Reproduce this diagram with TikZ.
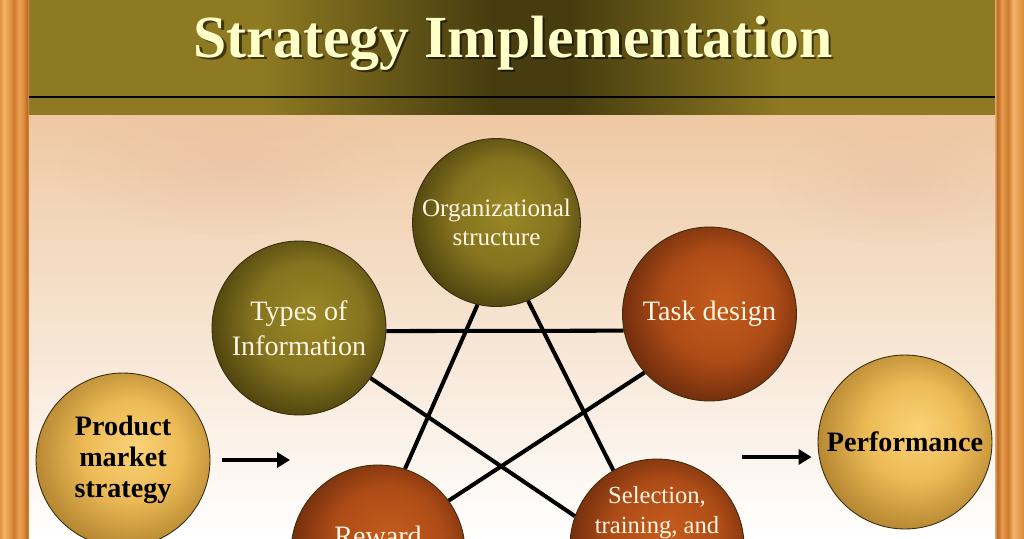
\documentclass[tikz,border=0pt]{standalone}
\usepackage{fontspec}
\setmainfont{Liberation Serif}
\usetikzlibrary{arrows.meta,fadings}

\definecolor{bandlight}{HTML}{8E7A22}
\definecolor{banddark}{HTML}{463C0F}
\definecolor{titlecream}{HTML}{FFFFC8}
\definecolor{bubblewhite}{HTML}{FFF6E4}
\definecolor{bubblerim}{HTML}{3A2E0C}
\definecolor{olivehi}{HTML}{9A8826}
\definecolor{olivemid}{HTML}{85731F}
\definecolor{olivelo}{HTML}{4E430E}
\definecolor{rusthi}{HTML}{C45C1C}
\definecolor{rustmid}{HTML}{AE4C17}
\definecolor{rustlo}{HTML}{6E2C0C}
\definecolor{goldhi}{HTML}{FAD276}
\definecolor{goldmid}{HTML}{EDBB56}
\definecolor{goldlo}{HTML}{B38530}
\definecolor{bgtop}{HTML}{EEC8A2}
\definecolor{bgmid}{HTML}{F7E6D6}
\definecolor{bgpink}{HTML}{E6B6A0}
\definecolor{woodA}{HTML}{E0923F}
\definecolor{woodB}{HTML}{F2B468}
\definecolor{woodC}{HTML}{E69C4C}
\definecolor{woodD}{HTML}{CF7A30}
\definecolor{woodE}{HTML}{EAA254}
\definecolor{woodF}{HTML}{DA8A3C}
\definecolor{woodG}{HTML}{BE6826}
\definecolor{woodH}{HTML}{E9A866}

\pgfdeclarehorizontalshading{bandshade}{100bp}{color(0bp)=(bandlight); color(37bp)=(bandlight); color(49bp)=(banddark); color(53bp)=(banddark); color(64bp)=(bandlight); color(100bp)=(bandlight)}
\pgfdeclarehorizontalshading{woodleft}{100bp}{color(0bp)=(woodA); color(25bp)=(woodA); color(32bp)=(woodB); color(40bp)=(woodC); color(49bp)=(woodD); color(58bp)=(woodE); color(66bp)=(woodF); color(72bp)=(woodG); color(75bp)=(woodH); color(100bp)=(woodH)}
\pgfdeclarehorizontalshading{woodright}{100bp}{color(0bp)=(woodH); color(25bp)=(woodH); color(29bp)=(woodG); color(37bp)=(woodC); color(48bp)=(woodD); color(56bp)=(woodB); color(65bp)=(woodE); color(75bp)=(woodF); color(100bp)=(woodF)}
\pgfdeclareradialshading{oliveball}{\pgfpoint{4bp}{4bp}}{color(0bp)=(olivehi); color(16bp)=(olivemid); color(28bp)=(olivelo); color(50bp)=(olivelo)}
\pgfdeclareradialshading{rustball}{\pgfpoint{4bp}{4bp}}{color(0bp)=(rusthi); color(16bp)=(rustmid); color(28bp)=(rustlo); color(50bp)=(rustlo)}
\pgfdeclareradialshading{goldball}{\pgfpoint{4bp}{4bp}}{color(0bp)=(goldhi); color(14bp)=(goldmid); color(28bp)=(goldlo); color(50bp)=(goldlo)}
\tikzfading[name=softspot, inner color=transparent!0, outer color=transparent!100]

\begin{document}
\begin{tikzpicture}[x=0.02cm, y=-0.02cm,
  bubble/.style={circle, draw=bubblerim, line width=0.5pt, shade, minimum size=3.48cm, inner sep=0pt, align=center},
  olivebubble/.style={bubble, shading=oliveball, text=bubblewhite},
  rustbubble/.style={bubble, shading=rustball, text=bubblewhite},
  goldbubble/.style={bubble, shading=goldball, text=black, font=\bfseries\fontsize{16}{17.6}\selectfont},
  bubbletext/.style={text=bubblewhite, align=center, inner sep=0pt},
  titletext/.style={anchor=base, font=\bfseries\fontsize{34}{40}\selectfont},
  link/.style={line width=2.3pt},
  flow/.style={line width=2.5pt, -{Triangle[length=0.26cm,width=0.3cm]}}]
\useasboundingbox (0,0) rectangle (1024,538);

% backdrop
\shade[top color=bgtop, middle color=bgmid, bottom color=white] (29,114) rectangle (995,538);
\fill[bgpink, opacity=0.35, path fading=softspot] (230,165) ellipse [x radius=3.4cm, y radius=1.4cm];
\fill[bgpink, opacity=0.3, path fading=softspot] (900,180) ellipse [x radius=2.6cm, y radius=1.3cm];
\shade[shading=bandshade] (29,0) rectangle (995,95.5);
\fill[black] (29,95.5) rectangle (995,98.5);
\shade[shading=bandshade] (29,98.5) rectangle (995,114);
\shade[shading=woodleft] (0,0) rectangle (29,538);
\shade[shading=woodright] (995,0) rectangle (1024,538);

\node[titletext, text=black, opacity=0.55] (titleShade) at (515.5,59.5) {Strategy Implementation};
\node[titletext, text=titlecream] (title) at (513,57) {Strategy Implementation};

\node[olivebubble, minimum size=3.36cm, font=\fontsize{14.3}{16.5}\selectfont] (org) at (496.5,222.5) {Organizational\\structure};
\node[olivebubble, font=\fontsize{16}{20}\selectfont] (types) at (299,328) {Types of\\Information};
\node[rustbubble, font=\fontsize{16}{20}\selectfont] (task) at (709.5,314) {Task design};
\node[rustbubble] (reward) at (378,552) {};
\node[rustbubble] (select) at (657,546) {};
\node[goldbubble] (product) at (123,460) {Product\\market\\strategy};
\node[goldbubble] (perf) at (905,442) {Performance};

\node[bubbletext, font=\fontsize{16}{20}\selectfont] (rewardText) at (378,536) {Reward};
\node[bubbletext, font=\fontsize{14}{17}\selectfont] (selectText) at (657,513) {Selection,\\training, and};

\draw[link] (types.-2) -- (task.191);
\draw[link] (org.257) -- (reward.72);
\draw[link] (org.292) -- (select.120);
\draw[link] (types.325) -- (select.160);
\draw[link] (task.222) -- (reward.36);

\coordinate (inTip) at (290,460);
\coordinate (outTail) at (742,457);
\draw[flow] ([xshift=0.24cm]product.east) -- (inTip);
\draw[flow, shorten >=0.12cm] (outTail) -- (outTail -| perf.west);
\end{tikzpicture}
\end{document}
